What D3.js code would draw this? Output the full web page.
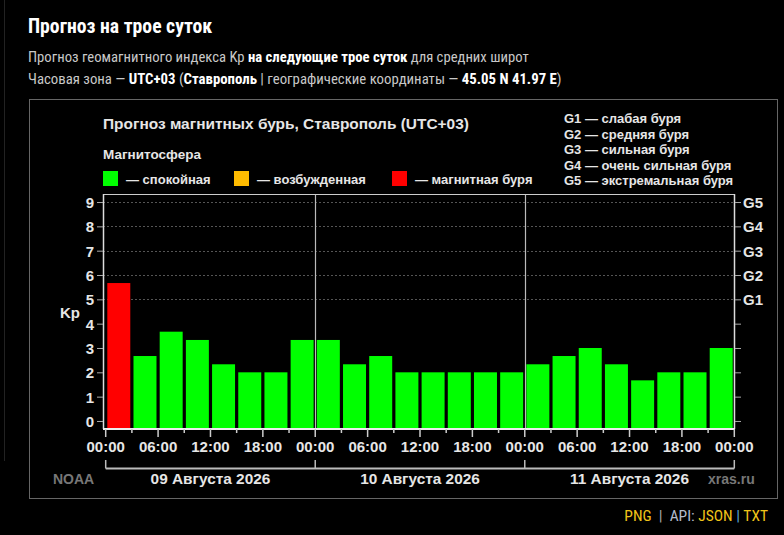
<!DOCTYPE html>
<html>
<head>
<meta charset="utf-8">
<script src="https://cdn.jsdelivr.net/npm/d3@7/dist/d3.min.js"></script>
<style>
  html, body { margin: 0; padding: 0; background: #000; }
  svg { display: block; }
  .narrow { font-family: 'Liberation Sans Narrow', 'Arial Narrow', 'Roboto Condensed', Arial, sans-serif; }
  .chart { font-family: 'Liberation Sans', Arial, Helvetica, sans-serif; font-weight: bold; }
</style>
</head>
<body>
<div id="chart"></div>
<script>
// Kp forecast, 3-hour slots, 09-11 Aug 2026 (UTC+03)
var kpValues = [5.67, 2.67, 3.67, 3.33, 2.33, 2.00, 2.00, 3.33,
                3.33, 2.33, 2.67, 2.00, 2.00, 2.00, 2.00, 2.00,
                2.33, 2.67, 3.00, 2.33, 1.67, 2.00, 2.00, 3.00];
var dayLabels = ['09 Августа 2026', '10 Августа 2026', '11 Августа 2026'];
var hourTicks = ['00:00', '06:00', '12:00', '18:00'];
var kpTicks = [0, 1, 2, 3, 4, 5, 6, 7, 8, 9];
var gLevels = [
  { kp: 5, label: 'G1', text: 'G1 — слабая буря' },
  { kp: 6, label: 'G2', text: 'G2 — средняя буря' },
  { kp: 7, label: 'G3', text: 'G3 — сильная буря' },
  { kp: 8, label: 'G4', text: 'G4 — очень сильная буря' },
  { kp: 9, label: 'G5', text: 'G5 — экстремальная буря' }
];
var legendItems = [
  { color: '#00ff00', text: '— спокойная' },
  { color: '#ffbb00', text: '— возбужденная' },
  { color: '#ff0000', text: '— магнитная буря' }
];

(function(){
  var W = 784, H = 535;
  var plot = { left: 103, right: 735, top: 194, bottom: 429 };

  var svg = d3.select('#chart').append('svg')
    .attr('width', W).attr('height', H);

  // page edge line
  svg.append('line').attr('x1', 4.5).attr('x2', 4.5).attr('y1', 0).attr('y2', 461)
    .attr('stroke', '#222');

  // page header
  svg.append('text').attr('class', 'narrow')
    .attr('x', 28).attr('y', 33)
    .style('font-size', '19.7px').style('font-weight', 'bold').style('fill', '#fff')
    .text('Прогноз на трое суток');

  var l1 = svg.append('text').attr('class', 'narrow')
    .attr('x', 28).attr('y', 62).style('font-size', '14.7px').style('fill', '#c8c8c8');
  l1.append('tspan').text('Прогноз геомагнитного индекса Kp ');
  l1.append('tspan').style('font-weight', 'bold').style('fill', '#fff').text('на следующие трое суток');
  l1.append('tspan').text(' для средних широт');

  var l2 = svg.append('text').attr('class', 'narrow')
    .attr('x', 28).attr('y', 84).style('font-size', '14.8px').style('fill', '#c8c8c8');
  l2.append('tspan').text('Часовая зона — ');
  l2.append('tspan').style('font-weight', 'bold').style('fill', '#fff').text('UTC+03');
  l2.append('tspan').text(' (');
  l2.append('tspan').style('font-weight', 'bold').style('fill', '#fff').text('Ставрополь');
  l2.append('tspan').text(' | географические координаты — ');
  l2.append('tspan').style('font-weight', 'bold').style('fill', '#fff').text('45.05 N 41.97 E');
  l2.append('tspan').text(')');

  // image frame
  svg.append('rect').attr('x', 29.5).attr('y', 99.5).attr('width', 748).attr('height', 399)
    .attr('fill', 'none').attr('stroke', '#666');

  var g = svg.append('g').attr('class', 'chart');

  // chart titles
  g.append('text').attr('x', 103).attr('y', 129)
    .style('font-size', '15.45px').style('fill', '#e6e6e6')
    .text('Прогноз магнитных бурь, Ставрополь (UTC+03)');
  g.append('text').attr('x', 103).attr('y', 159)
    .style('font-size', '13.5px').style('fill', '#e6e6e6')
    .text('Магнитосфера');

  // legend
  var legX = [103, 234, 392];
  var leg = g.selectAll('.leg').data(legendItems).enter().append('g')
    .attr('class', 'leg')
    .attr('transform', function(d, i){ return 'translate(' + legX[i] + ',171)'; });
  leg.append('rect').attr('width', 15).attr('height', 15)
    .attr('fill', function(d){ return d.color; });
  leg.append('text').attr('x', 23).attr('y', 12.5)
    .style('font-size', '13px').style('fill', '#e6e6e6')
    .text(function(d){ return d.text; });

  // G legend (top right)
  g.selectAll('.glev').data(gLevels).enter().append('text')
    .attr('class', 'glev')
    .attr('x', 564)
    .attr('y', function(d, i){ return 123 + i * 15.6; })
    .style('font-size', '13px').style('fill', '#e6e6e6')
    .text(function(d){ return d.text; });

  // scales
  var x = d3.scaleLinear().domain([0, 72]).range([105.7, 734.3]);
  var y = d3.scaleLinear().domain([-0.33, 9.33]).range([plot.bottom, plot.top]);

  // grid at storm levels
  g.selectAll('.grid').data(gLevels).enter().append('line')
    .attr('class', 'grid')
    .attr('x1', plot.left).attr('x2', plot.right)
    .attr('y1', function(d){ return Math.round(y(d.kp)) + 0.5; })
    .attr('y2', function(d){ return Math.round(y(d.kp)) + 0.5; })
    .attr('stroke', '#555').attr('stroke-dasharray', '2,2');

  // bars
  function barColor(v){ return v >= 5 ? '#ff0000' : (v >= 4 ? '#ffbb00' : '#00ff00'); }
  g.selectAll('.bar').data(kpValues).enter().append('rect')
    .attr('class', 'bar')
    .attr('x', function(d, i){ return x(i * 3) + 1.6; })
    .attr('width', function(d, i){ return x(i * 3 + 3) - x(i * 3) - 3.2; })
    .attr('y', function(d){ return y(d); })
    .attr('height', function(d){ return plot.bottom - y(d); })
    .attr('fill', barColor);

  // day separators inside plot
  var dayBounds = [24, 48];
  g.selectAll('.sep').data(dayBounds).enter().append('line')
    .attr('class', 'sep')
    .attr('x1', function(d){ return Math.round(x(d)) + 0.5; })
    .attr('x2', function(d){ return Math.round(x(d)) + 0.5; })
    .attr('y1', plot.top).attr('y2', plot.bottom)
    .attr('stroke', '#bbb').attr('stroke-width', 1.2);

  // plot frame
  g.append('line').attr('x1', plot.left).attr('x2', plot.right)
    .attr('y1', plot.top + 0.5).attr('y2', plot.top + 0.5).attr('stroke', '#ccc');
  g.append('line').attr('x1', plot.left + 0.5).attr('x2', plot.left + 0.5)
    .attr('y1', plot.top).attr('y2', plot.bottom).attr('stroke', '#ddd').attr('stroke-width', 1.5);
  g.append('line').attr('x1', plot.right - 0.5).attr('x2', plot.right - 0.5)
    .attr('y1', plot.top).attr('y2', plot.bottom).attr('stroke', '#ddd').attr('stroke-width', 1.5);

  // left Kp axis
  var yAxisL = g.append('g').attr('transform', 'translate(' + plot.left + ',0)')
    .call(d3.axisLeft(y).tickValues(kpTicks).tickSize(6).tickPadding(3).tickFormat(d3.format('d')));
  yAxisL.select('.domain').remove();
  yAxisL.selectAll('line').attr('stroke', '#aaa');
  yAxisL.selectAll('text').attr('fill', '#e6e6e6').style('font-size', '15px')
    .style('font-family', null).attr('dy', '0.36em');

  // right G axis
  var gMap = {}; gLevels.forEach(function(d){ gMap[d.kp] = d.label; });
  var yAxisR = g.append('g').attr('transform', 'translate(' + plot.right + ',0)')
    .call(d3.axisRight(y).tickValues(kpTicks).tickSize(6).tickPadding(2)
      .tickFormat(function(d){ return gMap[d] || ''; }));
  yAxisR.select('.domain').remove();
  yAxisR.selectAll('line').attr('stroke', '#aaa');
  yAxisR.selectAll('text').attr('fill', '#e6e6e6').style('font-size', '15px')
    .style('font-family', null).attr('dy', '0.36em');

  // x axis: minor ticks every 3h, major every 6h
  var minor = d3.range(3, 72, 6);
  var major = d3.range(0, 73, 6);
  var xAxis = g.append('g').attr('transform', 'translate(0,' + plot.bottom + ')');
  xAxis.append('line').attr('x1', plot.left).attr('x2', plot.right)
    .attr('y1', 0).attr('y2', 0).attr('stroke', '#eee').attr('stroke-width', 2);
  xAxis.selectAll('.mn').data(minor).enter().append('line')
    .attr('x1', function(d){ return x(d); }).attr('x2', function(d){ return x(d); })
    .attr('y1', 0).attr('y2', 4).attr('stroke', '#ccc').attr('stroke-width', 1.5);
  xAxis.selectAll('.mj').data(major).enter().append('line')
    .attr('x1', function(d){ return x(d); }).attr('x2', function(d){ return x(d); })
    .attr('y1', 0).attr('y2', 8).attr('stroke', '#ccc').attr('stroke-width', 1.5);
  xAxis.selectAll('.xl').data(major).enter().append('text')
    .attr('x', function(d){ return x(d); }).attr('y', 23)
    .attr('text-anchor', 'middle')
    .style('font-size', '15px').style('fill', '#e6e6e6')
    .text(function(d, i){ return hourTicks[i % 4]; });

  // day bracket
  var by = 468.5;
  g.append('line').attr('x1', x(0)).attr('x2', x(72)).attr('y1', by).attr('y2', by)
    .attr('stroke', '#bbb').attr('stroke-width', 2);
  g.selectAll('.bt').data([0, 24, 48, 72]).enter().append('line')
    .attr('x1', function(d){ return x(d); }).attr('x2', function(d){ return x(d); })
    .attr('y1', 460).attr('y2', by).attr('stroke', '#bbb').attr('stroke-width', 1.5);
  g.selectAll('.day').data(dayLabels).enter().append('text')
    .attr('x', function(d, i){ return x(i * 24 + 12); }).attr('y', 484)
    .attr('text-anchor', 'middle')
    .style('font-size', '15.4px').style('fill', '#e6e6e6')
    .text(function(d){ return d; });

  // credits
  g.append('text').attr('x', 53).attr('y', 484).style('font-size', '14px').style('fill', '#777').text('NOAA');
  g.append('text').attr('x', 708).attr('y', 484).style('font-size', '14px').style('fill', '#777').text('xras.ru');
  g.append('text').attr('x', 60).attr('y', 318).style('font-size', '15px').style('fill', '#e6e6e6').text('Kp');

  // footer links
  var f = svg.append('text').attr('class', 'narrow')
    .attr('x', 768).attr('y', 521).attr('text-anchor', 'end').style('font-size', '15.5px');
  f.append('tspan').style('fill', '#f0c419').text('PNG');
  f.append('tspan').style('fill', '#aaa').text('\u00a0\u00a0|\u00a0\u00a0');
  f.append('tspan').style('fill', '#b4bccc').text('API: ');
  f.append('tspan').style('fill', '#f0c419').text('JSON');
  f.append('tspan').style('fill', '#5aa7d6').text(' | ');
  f.append('tspan').style('fill', '#f0c419').text('TXT');
})();
</script>
</body>
</html>
